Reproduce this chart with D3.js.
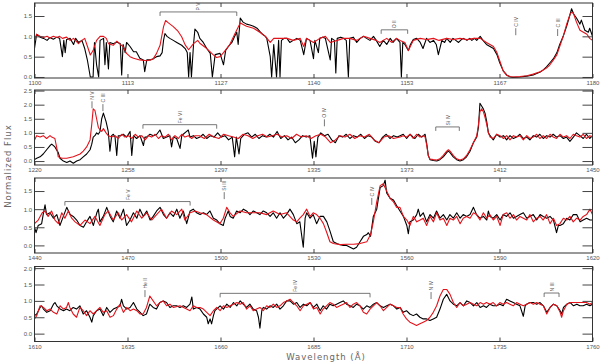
<!DOCTYPE html>
<html><head><meta charset="utf-8">
<script src="https://cdn.jsdelivr.net/npm/d3@7"></script>
<style>
body{margin:0;background:#fff;}
svg{display:block;}
.tick text{font-family:"Liberation Sans",Arial,sans-serif;font-size:6px;fill:#555;}
.tick line{stroke:#444;}
</style></head>
<body><svg id="c" width="600" height="364"></svg>
<script>
// ---------- data ----------
const p1Ticks = [1100, 1113.33, 1126.67, 1140, 1153.33, 1166.67, 1180];
const p2Ticks = [1220, 1258.33, 1296.67, 1335, 1373.33, 1411.67, 1450];
const p3Ticks = [1440, 1470, 1500, 1530, 1560, 1590, 1620];
const p4Ticks = [1610, 1635, 1660, 1685, 1710, 1735, 1760];
const p1YTicks = [0, 0.5, 1.0, 1.5];
const p2YTicks = [0, 0.5, 1.0, 1.5, 2.0, 2.5];
const p3YTicks = [0, 0.5, 1.0, 1.5];
const p4YTicks = [0, 0.5, 1.0, 1.5, 2.0];
const p1Domain = [-0.025, 1.82];
const p2Domain = [-0.14, 2.52];
const p3Domain = [-0.21, 1.86];
const p4Domain = [-0.24, 2.05];

const obs1 = [[1100.0,0.7],[1100.3,1.05],[1100.8,0.98],[1101.3,0.95],[1101.8,0.9],[1102.2,0.97],[1102.7,0.93],[1103.2,0.98],[1103.6,0.95],[1104.0,0.5],[1104.2,0.9],[1104.4,0.6],[1104.6,0.92],[1105.1,0.95],[1105.6,0.8],[1105.9,0.95],[1106.3,0.85],[1106.8,0.9],[1107.2,0.7],[1107.6,0.4],[1108.0,0.0],[1108.4,0.0],[1108.6,0.85],[1108.9,0.3],[1109.2,0.0],[1109.4,0.9],[1109.9,0.95],[1110.1,0.3],[1110.3,0.85],[1110.6,0.2],[1110.8,0.85],[1111.3,0.82],[1111.8,0.86],[1112.3,0.82],[1112.5,0.05],[1112.7,0.8],[1113.0,0.6],[1113.2,0.85],[1113.7,0.75],[1114.2,0.62],[1114.6,0.62],[1115.1,0.46],[1115.6,0.42],[1115.8,0.13],[1116.1,0.42],[1116.6,0.42],[1117.0,0.45],[1117.5,0.5],[1118.0,0.52],[1118.3,0.6],[1118.5,0.9],[1118.7,1.07],[1119.0,1.0],[1119.4,0.95],[1119.9,0.9],[1120.4,0.85],[1121.1,0.78],[1121.6,0.7],[1121.9,0.6],[1122.1,0.0],[1122.3,0.6],[1122.5,0.0],[1122.8,0.8],[1123.0,1.18],[1123.4,1.1],[1123.7,0.95],[1124.2,0.85],[1124.7,0.7],[1125.2,0.58],[1125.5,0.0],[1125.9,0.55],[1126.6,0.58],[1127.1,0.3],[1127.4,0.65],[1127.8,0.75],[1128.3,0.85],[1128.7,1.0],[1129.0,1.1],[1129.2,0.8],[1129.5,1.45],[1129.9,1.35],[1130.4,1.3],[1130.9,1.28],[1131.4,1.25],[1131.9,1.2],[1132.3,1.12],[1132.7,1.05],[1133.1,1.0],[1133.3,0.95],[1133.8,0.5],[1134.0,0.0],[1134.3,0.8],[1134.7,0.0],[1135.0,0.9],[1135.2,0.0],[1135.4,0.9],[1135.8,0.95],[1136.2,0.95],[1136.6,0.85],[1137.1,0.9],[1137.6,0.95],[1138.1,0.9],[1138.6,0.55],[1139.0,0.95],[1139.5,0.9],[1140.0,0.45],[1140.2,0.9],[1140.7,0.6],[1140.9,0.95],[1141.3,0.98],[1141.7,0.95],[1142.4,0.42],[1142.6,0.95],[1143.0,0.9],[1143.2,0.1],[1143.4,0.95],[1143.9,0.98],[1144.3,0.95],[1144.7,0.9],[1145.0,0.0],[1145.2,0.95],[1145.7,0.98],[1146.2,0.85],[1146.7,0.95],[1147.2,1.0],[1147.6,0.95],[1148.1,0.9],[1148.6,1.0],[1149.0,0.9],[1149.5,0.75],[1150.0,0.9],[1150.5,0.8],[1151.0,0.95],[1151.4,0.85],[1151.9,0.95],[1152.4,0.85],[1152.6,0.0],[1152.8,0.85],[1153.1,0.8],[1153.6,0.65],[1153.9,0.8],[1154.3,0.92],[1154.8,0.95],[1155.3,0.85],[1155.7,0.7],[1156.2,0.95],[1156.7,0.85],[1157.2,0.9],[1157.6,0.8],[1157.9,0.55],[1158.4,0.9],[1158.8,0.85],[1159.1,0.95],[1159.6,0.85],[1160.0,0.95],[1160.4,0.9],[1160.8,0.85],[1161.2,0.92],[1161.5,0.95],[1162.0,0.9],[1162.4,0.95],[1162.7,0.9],[1163.1,0.95],[1163.4,0.9],[1163.9,1.0],[1164.3,0.9],[1164.8,0.8],[1165.3,0.75],[1165.8,0.7],[1166.3,0.55],[1166.7,0.35],[1167.2,0.15],[1167.7,0.05],[1168.2,0.0],[1168.6,-0.01],[1169.6,0.0],[1170.6,0.02],[1171.5,0.05],[1172.5,0.12],[1172.9,0.17],[1173.4,0.25],[1173.9,0.35],[1174.4,0.45],[1174.9,0.6],[1175.3,0.8],[1175.8,1.0],[1176.3,1.25],[1176.8,1.55],[1177.0,1.68],[1177.3,1.55],[1177.7,1.45],[1178.2,1.3],[1178.4,1.4],[1178.9,1.15],[1179.4,1.1],[1179.6,1.2],[1180.0,1.0]];

const mod1 = [[1100.0,0.88],[1100.3,1.05],[1100.8,1.0],[1101.3,0.97],[1101.8,1.0],[1102.2,0.96],[1102.7,1.0],[1103.2,0.97],[1103.6,1.0],[1104.0,0.95],[1104.6,0.98],[1105.1,0.9],[1105.6,0.95],[1106.3,0.82],[1106.8,0.9],[1107.2,0.95],[1107.6,0.75],[1108.0,0.54],[1108.4,0.65],[1108.9,0.9],[1109.4,1.0],[1109.9,1.0],[1110.3,0.95],[1110.6,0.82],[1111.3,0.78],[1111.8,0.88],[1112.3,0.8],[1112.7,0.75],[1113.2,0.58],[1113.7,0.5],[1114.2,0.46],[1115.1,0.42],[1116.1,0.4],[1117.0,0.44],[1117.5,0.58],[1118.0,0.78],[1118.5,1.24],[1118.8,1.39],[1119.2,1.33],[1119.9,1.24],[1120.6,1.12],[1121.1,0.99],[1121.6,0.79],[1122.1,0.67],[1122.8,0.82],[1123.4,0.9],[1123.7,0.83],[1124.7,0.7],[1125.6,0.55],[1126.1,0.48],[1126.6,0.5],[1127.1,0.6],[1128.0,0.8],[1128.7,1.05],[1129.5,1.33],[1130.4,1.25],[1131.4,1.2],[1132.3,1.1],[1133.1,1.0],[1133.8,0.85],[1134.3,0.95],[1135.2,0.95],[1136.2,0.95],[1137.1,0.9],[1138.1,0.95],[1138.6,0.75],[1139.0,0.95],[1140.0,0.85],[1140.9,0.95],[1141.7,1.0],[1142.4,0.85],[1143.4,0.9],[1144.3,0.95],[1145.2,0.95],[1146.2,0.9],[1147.2,1.0],[1148.1,0.95],[1149.0,0.9],[1149.5,0.85],[1150.5,0.95],[1151.2,0.85],[1151.9,0.95],[1152.4,0.9],[1153.1,0.85],[1153.6,0.65],[1154.3,0.9],[1155.3,0.95],[1156.2,0.92],[1157.2,0.95],[1158.0,0.9],[1159.1,0.95],[1160.0,0.92],[1161.0,0.95],[1162.0,0.92],[1163.0,0.95],[1163.9,0.95],[1164.8,0.85],[1165.8,0.75],[1166.3,0.6],[1166.7,0.4],[1167.2,0.15],[1167.7,0.04],[1168.2,0.01],[1168.6,0.0],[1169.6,0.01],[1170.6,0.03],[1171.5,0.07],[1172.5,0.13],[1173.4,0.22],[1173.9,0.3],[1174.4,0.42],[1174.9,0.55],[1175.3,0.75],[1175.8,1.0],[1176.3,1.3],[1176.8,1.55],[1177.0,1.6],[1177.3,1.55],[1177.7,1.35],[1178.2,1.15],[1178.7,1.1],[1179.2,1.05],[1179.6,0.95],[1180.0,0.9]];

const obs2 = [[1220.0,0.05],[1220.9,0.1],[1222.3,0.15],[1223.6,0.25],[1225.0,0.4],[1226.4,0.55],[1227.1,0.6],[1228.4,0.5],[1229.8,0.3],[1230.5,0.1],[1231.9,0.0],[1233.3,-0.05],[1234.6,0.0],[1236.0,-0.08],[1237.4,0.0],[1238.8,0.05],[1240.1,0.15],[1241.5,0.25],[1242.9,0.4],[1243.6,0.6],[1244.2,0.85],[1244.9,0.9],[1245.6,1.0],[1246.3,0.95],[1247.0,1.05],[1247.7,1.5],[1248.4,1.7],[1249.5,1.4],[1250.4,1.05],[1251.1,0.35],[1251.8,0.9],[1252.5,0.95],[1253.2,0.85],[1253.9,0.2],[1254.5,0.9],[1255.2,0.9],[1256.6,0.95],[1258.0,0.85],[1259.4,1.05],[1260.1,0.2],[1260.8,0.9],[1262.1,0.8],[1263.5,0.9],[1264.9,0.55],[1265.5,0.85],[1266.2,0.85],[1267.6,0.95],[1269.0,0.9],[1270.4,0.95],[1271.7,1.1],[1273.1,0.8],[1274.5,0.85],[1275.8,0.9],[1276.5,0.5],[1277.2,0.85],[1278.6,0.8],[1280.0,0.45],[1280.7,0.9],[1281.3,0.95],[1282.7,1.05],[1283.4,1.1],[1284.1,0.85],[1285.5,0.9],[1286.8,0.8],[1288.2,0.85],[1289.5,0.95],[1291.0,0.8],[1292.5,0.9],[1294.0,0.85],[1295.5,1.0],[1297.0,0.85],[1298.5,0.9],[1300.0,0.75],[1301.5,0.85],[1302.5,0.15],[1303.2,0.85],[1304.3,0.25],[1305.0,0.8],[1306.5,0.95],[1308.0,1.0],[1309.5,0.85],[1311.0,0.95],[1312.5,0.8],[1314.0,0.9],[1315.5,0.85],[1317.0,0.95],[1318.5,0.85],[1320.0,1.05],[1321.5,0.8],[1323.0,0.9],[1324.5,0.75],[1326.0,0.85],[1327.5,0.65],[1329.0,0.75],[1330.5,0.9],[1332.0,0.85],[1333.5,0.9],[1334.6,0.1],[1335.3,0.7],[1336.0,0.15],[1336.8,0.85],[1338.0,1.0],[1339.5,0.9],[1341.0,0.95],[1342.5,0.75],[1344.0,0.65],[1345.5,0.9],[1347.0,0.85],[1348.5,0.95],[1350.0,0.8],[1351.5,0.9],[1353.0,0.85],[1354.5,0.95],[1356.0,0.8],[1357.5,0.9],[1359.0,0.85],[1360.5,0.7],[1362.0,0.65],[1363.5,0.85],[1365.0,0.95],[1366.5,0.8],[1368.0,0.9],[1369.5,0.85],[1370.7,0.9],[1372.0,0.95],[1373.4,0.8],[1374.8,0.95],[1376.1,0.85],[1376.8,0.8],[1378.2,0.95],[1379.6,0.85],[1381.0,0.95],[1381.7,0.6],[1382.3,0.2],[1383.0,0.05],[1384.4,0.02],[1385.8,0.0],[1387.1,0.05],[1388.5,0.15],[1389.9,0.3],[1390.6,0.35],[1391.3,0.3],[1392.6,0.15],[1394.0,0.05],[1395.4,0.0],[1396.8,0.05],[1398.1,0.15],[1399.5,0.35],[1400.9,0.65],[1402.3,0.85],[1403.0,1.2],[1403.6,2.05],[1404.3,1.95],[1405.0,1.85],[1405.7,1.7],[1406.4,1.4],[1407.1,1.0],[1407.8,0.9],[1409.1,0.75],[1410.5,0.95],[1411.9,0.85],[1413.3,0.9],[1414.6,0.75],[1416.0,0.9],[1417.4,0.8],[1418.7,0.85],[1420.1,0.95],[1421.5,0.8],[1422.9,0.85],[1424.2,0.75],[1425.6,0.9],[1427.0,0.85],[1428.3,0.95],[1429.7,0.8],[1431.1,0.9],[1432.5,0.85],[1433.8,0.95],[1435.2,0.85],[1436.6,0.9],[1438.0,0.8],[1439.3,0.85],[1440.7,0.7],[1442.1,0.85],[1443.4,1.0],[1444.8,0.9],[1446.2,0.8],[1447.5,0.95],[1448.9,0.8],[1450.0,0.9]];

const mod2 = [[1220.0,0.75],[1220.9,0.9],[1222.3,0.85],[1223.6,0.9],[1225.0,0.8],[1226.4,0.9],[1227.1,0.85],[1228.4,0.8],[1229.1,0.5],[1229.8,0.15],[1231.2,0.1],[1233.3,0.1],[1236.0,0.15],[1238.8,0.25],[1240.1,0.35],[1241.5,0.5],[1242.9,0.75],[1243.6,1.3],[1244.2,1.85],[1244.9,1.8],[1245.6,1.5],[1246.3,1.2],[1247.0,1.1],[1247.7,1.05],[1248.4,1.15],[1249.5,1.0],[1250.4,0.9],[1251.8,0.85],[1253.2,0.9],[1254.5,0.8],[1256.0,0.95],[1257.3,0.85],[1258.7,0.9],[1260.1,0.8],[1261.5,0.95],[1262.8,0.85],[1264.2,0.9],[1265.6,0.75],[1267.0,0.9],[1268.3,0.85],[1269.7,0.95],[1271.1,0.8],[1272.4,0.9],[1273.8,0.85],[1275.2,0.95],[1276.5,0.75],[1277.9,0.9],[1279.3,0.8],[1280.7,0.95],[1282.0,0.85],[1283.4,0.9],[1284.8,0.8],[1286.2,0.9],[1288.0,0.9],[1290.0,0.8],[1292.0,0.95],[1294.0,0.85],[1296.0,0.8],[1298.0,0.95],[1300.0,0.9],[1302.0,0.85],[1304.0,0.8],[1306.0,0.95],[1308.0,0.9],[1310.0,0.8],[1312.0,0.9],[1314.0,0.95],[1316.0,0.85],[1318.0,0.9],[1320.0,0.95],[1322.0,0.85],[1324.0,0.9],[1326.0,0.8],[1328.0,0.95],[1330.0,0.85],[1332.0,0.9],[1334.0,0.8],[1336.0,0.9],[1338.0,0.95],[1340.0,0.85],[1342.0,0.65],[1344.0,0.75],[1346.0,0.9],[1348.0,0.85],[1350.0,0.95],[1352.0,0.8],[1354.0,0.9],[1356.0,0.85],[1358.0,0.95],[1360.0,0.75],[1362.0,0.65],[1364.0,0.85],[1366.0,0.9],[1368.0,0.8],[1370.7,0.85],[1372.0,0.9],[1373.4,0.85],[1374.8,0.95],[1376.1,0.8],[1377.5,0.95],[1378.9,0.85],[1380.3,0.9],[1381.0,0.85],[1381.7,0.55],[1382.3,0.2],[1383.0,0.07],[1384.4,0.05],[1385.8,0.04],[1387.1,0.08],[1388.5,0.2],[1389.9,0.35],[1390.6,0.4],[1391.3,0.35],[1392.6,0.2],[1394.0,0.08],[1395.4,0.04],[1396.8,0.08],[1398.1,0.2],[1399.5,0.4],[1400.9,0.65],[1402.3,0.9],[1403.0,1.3],[1403.6,1.75],[1404.3,1.85],[1405.0,1.75],[1405.7,1.55],[1406.4,1.3],[1407.1,1.0],[1407.8,0.85],[1409.1,0.8],[1410.5,0.95],[1411.9,0.9],[1413.3,0.8],[1414.6,0.9],[1416.0,0.75],[1417.4,0.9],[1418.7,0.85],[1420.1,0.9],[1421.5,0.75],[1422.9,0.9],[1424.2,0.8],[1425.6,0.85],[1427.0,0.95],[1428.3,0.8],[1429.7,0.9],[1431.1,0.8],[1432.5,0.95],[1433.8,0.85],[1435.2,0.8],[1436.6,0.95],[1438.0,0.85],[1439.3,0.9],[1440.7,0.8],[1442.1,0.95],[1443.4,0.9],[1444.8,0.85],[1446.2,0.95],[1447.5,0.8],[1448.9,0.9],[1450.0,0.85]];

const obs3 = [[1440.0,0.5],[1440.5,0.35],[1441.2,0.55],[1442.3,0.6],[1442.8,0.85],[1443.4,1.12],[1443.9,0.85],[1445.0,0.9],[1446.1,0.75],[1447.2,0.85],[1448.2,0.55],[1449.3,0.8],[1450.4,1.05],[1451.5,0.85],[1452.5,0.8],[1453.6,0.7],[1454.7,0.55],[1455.8,0.5],[1456.8,0.65],[1457.9,0.8],[1459.0,0.55],[1460.1,0.9],[1460.6,1.0],[1461.1,0.65],[1462.2,0.8],[1463.3,1.05],[1464.4,0.8],[1465.4,0.65],[1466.5,0.95],[1467.6,0.75],[1468.7,1.0],[1469.7,0.55],[1470.8,0.7],[1471.9,0.9],[1473.0,0.75],[1474.0,1.0],[1475.1,0.8],[1476.2,0.95],[1477.3,0.7],[1478.3,0.8],[1479.4,0.95],[1480.5,1.05],[1481.6,0.85],[1482.6,0.75],[1483.7,0.9],[1484.8,0.8],[1485.9,1.0],[1486.9,0.75],[1488.0,0.95],[1489.1,0.6],[1490.2,0.95],[1491.2,1.0],[1492.3,0.9],[1493.4,0.85],[1494.5,0.9],[1495.5,0.85],[1496.6,0.95],[1497.7,0.75],[1498.8,0.7],[1499.8,0.6],[1500.9,0.55],[1501.5,0.75],[1502.0,0.85],[1502.5,0.95],[1503.1,0.8],[1504.1,0.75],[1505.2,0.95],[1506.3,0.9],[1507.4,1.0],[1508.4,0.95],[1509.5,0.85],[1510.6,0.95],[1511.7,0.9],[1512.7,0.85],[1513.8,0.95],[1514.9,0.9],[1516.0,0.8],[1517.0,0.9],[1518.1,0.75],[1519.2,0.9],[1520.3,0.75],[1521.3,0.85],[1522.4,1.0],[1523.5,0.85],[1524.6,0.6],[1525.6,0.65],[1526.7,-0.05],[1527.3,0.75],[1527.8,0.9],[1528.9,0.75],[1529.9,0.85],[1531.0,0.6],[1532.1,0.8],[1533.2,0.8],[1534.3,0.65],[1535.3,0.4],[1536.4,0.1],[1537.5,0.05],[1538.6,0.02],[1539.6,0.0],[1540.7,0.0],[1541.8,-0.05],[1542.9,-0.1],[1543.9,-0.05],[1545.0,0.1],[1546.1,0.25],[1547.2,0.3],[1547.7,0.35],[1548.4,0.25],[1549.3,0.8],[1550.4,1.0],[1551.5,1.6],[1552.5,1.65],[1553.1,1.8],[1553.6,1.45],[1554.7,1.3],[1555.8,1.25],[1556.8,1.1],[1557.9,0.95],[1559.0,0.8],[1560.1,0.55],[1560.6,0.32],[1561.1,0.65],[1562.2,0.7],[1563.3,0.85],[1563.8,1.0],[1564.4,0.8],[1565.4,0.9],[1566.5,0.65],[1567.6,0.85],[1568.7,0.75],[1569.7,0.95],[1570.8,0.75],[1571.9,0.85],[1573.0,0.7],[1574.0,0.85],[1575.1,0.75],[1576.2,0.9],[1577.3,0.75],[1578.3,0.85],[1579.4,0.8],[1580.5,0.85],[1581.6,1.05],[1582.6,0.85],[1583.7,0.75],[1584.8,0.8],[1585.9,0.7],[1586.4,0.95],[1586.9,0.8],[1588.0,0.75],[1589.1,0.85],[1590.2,0.7],[1591.2,0.85],[1592.3,0.8],[1593.4,0.9],[1594.5,0.75],[1595.5,0.8],[1596.6,0.85],[1597.7,0.9],[1598.8,0.75],[1599.8,0.8],[1600.9,0.85],[1602.0,0.7],[1603.1,0.85],[1604.1,0.8],[1605.2,0.75],[1606.3,0.8],[1607.4,0.7],[1608.4,0.35],[1609.0,0.55],[1609.5,0.55],[1610.6,0.6],[1611.7,0.75],[1612.7,0.7],[1613.8,0.85],[1614.9,0.85],[1616.0,0.65],[1617.0,0.7],[1618.1,0.75],[1619.2,0.7],[1620.0,0.7]];

const mod3 = [[1440.0,0.6],[1441.2,0.7],[1442.5,0.9],[1443.4,0.95],[1444.4,0.8],[1445.5,0.95],[1446.6,0.7],[1447.7,0.6],[1448.8,0.9],[1449.8,0.75],[1450.9,0.95],[1452.0,0.75],[1453.1,0.65],[1454.7,0.55],[1456.3,0.7],[1457.9,0.6],[1459.5,0.8],[1461.1,0.55],[1462.7,0.85],[1463.8,0.95],[1465.4,0.7],[1467.0,0.9],[1468.1,0.7],[1469.7,0.85],[1471.3,0.65],[1473.0,0.95],[1474.6,0.75],[1476.2,0.9],[1477.8,0.7],[1479.4,0.85],[1481.0,1.0],[1482.6,0.75],[1484.2,0.95],[1485.9,0.85],[1487.5,1.0],[1488.5,0.7],[1490.2,0.9],[1491.8,0.95],[1493.4,0.9],[1495.5,0.85],[1497.7,0.7],[1499.8,0.6],[1500.9,0.75],[1502.0,1.05],[1503.1,0.9],[1504.1,0.8],[1506.3,0.95],[1508.4,0.9],[1510.6,0.9],[1512.7,0.9],[1514.9,0.85],[1517.0,0.95],[1519.2,0.85],[1521.3,0.9],[1523.5,0.7],[1524.6,0.65],[1525.6,0.75],[1526.7,0.85],[1527.8,1.0],[1528.9,0.8],[1529.9,0.9],[1531.0,0.85],[1532.1,0.75],[1533.2,0.6],[1534.3,0.35],[1535.3,0.1],[1536.4,0.05],[1538.6,0.02],[1540.7,0.03],[1542.9,0.03],[1545.0,0.05],[1547.2,0.1],[1548.4,0.3],[1549.3,0.65],[1550.4,1.2],[1551.5,1.65],[1552.5,1.7],[1553.6,1.5],[1554.7,1.3],[1555.8,1.2],[1556.8,1.05],[1557.9,1.05],[1559.0,0.8],[1560.1,0.7],[1561.1,0.55],[1562.2,0.8],[1563.3,0.65],[1564.4,0.7],[1565.4,0.75],[1566.5,0.55],[1567.6,0.8],[1568.7,0.65],[1569.7,0.9],[1570.8,0.7],[1571.9,0.75],[1573.0,0.55],[1574.0,0.75],[1575.1,0.7],[1576.2,0.8],[1577.3,0.6],[1578.3,0.75],[1579.4,0.8],[1580.5,0.75],[1581.6,0.9],[1582.6,0.85],[1583.7,0.7],[1584.8,0.9],[1585.9,0.75],[1586.9,0.85],[1588.0,0.7],[1589.1,0.8],[1590.2,0.55],[1591.2,0.85],[1592.3,0.9],[1593.4,0.75],[1594.5,0.85],[1595.5,0.7],[1596.6,0.8],[1597.7,0.75],[1598.8,0.7],[1599.8,0.85],[1600.9,0.65],[1602.0,0.75],[1603.1,0.8],[1604.1,0.7],[1605.2,0.85],[1606.3,0.6],[1607.4,0.75],[1608.4,0.55],[1609.5,0.6],[1610.6,0.75],[1611.7,0.7],[1612.7,0.8],[1613.8,0.65],[1614.9,0.75],[1616.0,0.7],[1617.0,0.8],[1618.1,0.85],[1619.2,1.0],[1620.0,0.85]];

const obs4 = [[1610.0,0.55],[1610.6,0.6],[1611.5,0.8],[1611.9,0.85],[1612.4,0.75],[1613.3,0.65],[1614.2,0.7],[1615.1,0.9],[1615.5,0.95],[1616.0,0.85],[1616.9,0.75],[1617.8,0.7],[1618.6,0.75],[1619.5,0.7],[1620.4,0.8],[1621.3,0.75],[1622.2,0.85],[1623.1,0.6],[1624.0,0.7],[1624.9,0.5],[1625.4,0.35],[1625.8,0.55],[1626.7,0.7],[1627.6,0.75],[1628.5,0.55],[1629.4,0.8],[1630.3,0.65],[1631.2,0.75],[1632.1,0.8],[1633.0,0.85],[1633.4,1.05],[1633.9,0.85],[1634.8,0.75],[1635.7,0.8],[1636.6,0.95],[1637.5,0.75],[1638.4,0.65],[1639.2,0.55],[1640.1,0.6],[1641.0,0.9],[1641.9,0.8],[1642.8,0.75],[1643.7,0.95],[1644.6,1.0],[1645.5,0.95],[1646.4,0.8],[1647.3,0.85],[1648.2,0.85],[1649.1,0.8],[1650.0,0.85],[1650.9,0.8],[1651.8,0.9],[1652.3,1.12],[1652.7,0.75],[1653.6,0.8],[1654.5,0.75],[1655.4,0.6],[1656.3,0.5],[1656.7,0.3],[1657.2,0.45],[1657.6,0.3],[1658.1,0.55],[1658.5,0.7],[1659.9,0.85],[1660.8,0.75],[1661.7,0.9],[1662.6,0.8],[1663.5,0.95],[1664.4,0.85],[1665.3,1.0],[1666.1,0.9],[1667.0,0.8],[1667.9,0.9],[1668.8,0.75],[1669.7,0.7],[1670.2,0.5],[1670.6,0.17],[1671.1,0.7],[1671.5,0.8],[1672.4,0.75],[1673.3,0.85],[1674.2,0.8],[1675.1,0.9],[1676.0,0.75],[1676.9,0.85],[1677.8,1.0],[1678.7,1.0],[1679.6,0.9],[1680.5,0.95],[1681.4,0.8],[1682.3,0.9],[1683.2,0.85],[1684.1,0.95],[1685.0,0.8],[1685.9,0.9],[1686.8,0.7],[1687.6,0.85],[1688.5,0.75],[1689.4,0.9],[1690.3,0.85],[1691.2,0.9],[1692.1,0.95],[1693.0,1.0],[1693.9,0.9],[1694.8,0.85],[1695.7,0.8],[1696.6,0.9],[1697.5,0.85],[1698.4,0.75],[1699.3,0.85],[1700.2,0.8],[1701.1,0.9],[1702.0,0.95],[1702.9,0.85],[1703.8,0.8],[1704.7,0.85],[1705.6,0.9],[1706.5,0.85],[1707.4,0.75],[1708.3,0.8],[1709.1,0.65],[1710.0,0.7],[1710.9,0.6],[1711.8,0.55],[1712.7,0.6],[1713.6,0.5],[1714.5,0.45],[1715.4,0.45],[1716.3,0.4],[1717.2,0.45],[1718.1,0.5],[1719.0,0.75],[1719.9,1.05],[1720.8,1.2],[1721.7,1.0],[1722.6,0.9],[1723.5,0.85],[1724.4,0.95],[1725.3,0.85],[1726.2,1.0],[1727.1,0.95],[1728.0,0.85],[1728.9,0.95],[1729.8,0.8],[1730.7,0.85],[1731.5,0.8],[1732.4,0.9],[1733.3,0.85],[1734.2,0.85],[1735.1,0.9],[1736.0,0.85],[1736.9,1.05],[1737.8,1.0],[1738.7,0.95],[1739.6,0.9],[1740.5,0.85],[1741.4,0.53],[1741.9,0.85],[1742.3,0.9],[1743.2,0.95],[1744.1,0.95],[1745.0,0.9],[1745.9,0.95],[1746.8,0.85],[1747.7,0.65],[1748.6,0.8],[1749.5,0.9],[1750.4,0.85],[1751.3,0.7],[1751.7,0.6],[1752.2,0.8],[1753.1,0.9],[1754.0,0.95],[1754.9,0.85],[1755.8,0.9],[1756.6,0.85],[1757.5,0.85],[1758.4,0.9],[1759.3,0.85],[1760.0,0.9]];

const mod4 = [[1610.0,0.45],[1610.6,0.55],[1611.5,0.85],[1612.4,0.8],[1613.3,0.7],[1614.2,0.75],[1615.1,0.65],[1616.0,0.6],[1616.9,0.85],[1617.8,0.75],[1618.6,0.8],[1619.1,0.95],[1619.5,0.8],[1620.4,0.6],[1621.3,0.5],[1622.2,0.8],[1623.1,0.7],[1624.0,0.55],[1624.9,0.7],[1625.8,0.6],[1626.7,0.7],[1627.6,0.8],[1628.5,0.65],[1629.4,0.7],[1630.3,0.5],[1631.2,0.55],[1632.1,0.75],[1633.0,0.9],[1633.9,0.65],[1634.8,0.8],[1635.7,0.7],[1636.6,0.75],[1637.5,0.7],[1638.4,0.6],[1639.2,0.6],[1640.1,0.8],[1641.0,1.15],[1641.9,1.0],[1642.8,0.85],[1643.7,0.95],[1644.6,1.0],[1645.5,0.85],[1646.4,0.9],[1647.3,0.8],[1649.1,0.85],[1650.9,0.75],[1651.8,0.7],[1652.7,0.85],[1653.6,0.8],[1654.5,0.8],[1655.4,0.75],[1656.3,0.65],[1657.2,0.55],[1658.1,0.7],[1659.0,0.8],[1659.9,0.7],[1660.8,0.85],[1661.7,0.8],[1662.6,0.85],[1663.5,0.9],[1664.4,0.95],[1665.3,0.9],[1666.1,0.95],[1667.0,0.75],[1667.9,0.85],[1668.8,0.7],[1669.7,0.75],[1670.6,0.8],[1671.5,0.7],[1672.4,0.85],[1673.3,0.8],[1674.2,0.9],[1675.1,0.8],[1676.0,0.85],[1676.9,0.95],[1677.8,1.0],[1678.7,1.05],[1679.6,0.95],[1680.5,0.85],[1681.4,0.7],[1682.3,0.85],[1683.2,0.9],[1684.1,0.95],[1685.0,0.75],[1685.9,0.8],[1686.8,0.6],[1687.6,0.75],[1688.5,0.85],[1689.4,0.95],[1690.3,0.9],[1691.2,0.8],[1692.1,0.85],[1693.0,0.9],[1693.9,0.95],[1694.8,0.8],[1695.7,0.9],[1696.6,0.95],[1697.5,0.85],[1698.4,0.65],[1699.3,0.6],[1700.2,0.75],[1701.1,0.85],[1702.0,0.95],[1702.9,0.85],[1703.8,0.7],[1704.7,0.8],[1705.6,0.9],[1706.5,0.85],[1707.4,0.8],[1708.3,0.8],[1709.1,0.6],[1710.0,0.45],[1710.9,0.35],[1711.8,0.3],[1712.7,0.25],[1713.6,0.3],[1714.5,0.35],[1715.4,0.4],[1716.3,0.5],[1717.2,0.65],[1718.1,0.85],[1719.0,1.15],[1719.9,1.35],[1720.8,1.35],[1721.7,1.2],[1722.6,0.95],[1723.5,0.8],[1724.4,0.95],[1725.3,0.85],[1726.2,0.9],[1727.1,0.95],[1728.0,0.9],[1728.9,0.85],[1729.8,0.95],[1730.7,0.9],[1731.5,0.95],[1732.4,0.9],[1733.3,0.95],[1734.2,0.85],[1735.1,0.95],[1736.0,0.9],[1736.9,0.95],[1737.8,0.9],[1738.7,0.85],[1739.6,0.95],[1740.5,0.9],[1741.4,0.85],[1742.3,0.9],[1743.2,0.95],[1744.1,0.9],[1745.0,0.95],[1745.9,0.9],[1746.8,0.85],[1747.7,0.6],[1748.6,0.8],[1749.5,0.9],[1750.4,0.85],[1751.3,0.65],[1751.7,0.5],[1752.2,0.7],[1753.1,0.9],[1754.0,0.95],[1754.9,0.95],[1755.8,0.95],[1756.6,0.95],[1757.5,0.95],[1758.4,0.95],[1759.3,0.9],[1760.0,0.95]];

// line identifications: label, wavelength start/end, flux level of marker
const ids1 = [{label:"P V", w1:1118.0, w2:1129.0, f:1.6},{label:"O II", w1:1149.7, w2:1153.5, f:1.16},{label:"C IV", w1:1169.0, f:1.2},{label:"C III", w1:1175.0, f:1.18}];
const ids2 = [{label:"N V", w1:1243.7, f:2.12},{label:"C III", w1:1248.2, f:2.02},{label:"Fe VI", w1:1264.7, w2:1295.1, f:1.29},{label:"O IV", w1:1339.5, f:1.48},{label:"Si IV", w1:1385.4, w2:1395.1, f:1.21}];
const ids3 = [{label:"Fe V", w1:1449.8, w2:1490.2, f:1.21},{label:"Si III", w1:1501.2, f:1.47},{label:"C IV", w1:1548.8, f:1.31}];
const ids4 = [{label:"He II", w1:1639.7, f:1.33},{label:"Fe IV", w1:1659.9, w2:1700.2, f:1.23},{label:"N IV", w1:1716.6, f:1.27},{label:"N III", w1:1747.0, w2:1751.0, f:1.24}];

// ---------- drawing ----------
const svg = d3.select("#c");
const X0 = 34.5, X1 = 592.5, H = 75;
const panels = [
  {top:3,   xt:p1Ticks, yt:p1YTicks, yd:p1Domain, obs:obs1, mod:mod1, ids:ids1},
  {top:90,  xt:p2Ticks, yt:p2YTicks, yd:p2Domain, obs:obs2, mod:mod2, ids:ids2},
  {top:178, xt:p3Ticks, yt:p3YTicks, yd:p3Domain, obs:obs3, mod:mod3, ids:ids3},
  {top:266.5, xt:p4Ticks, yt:p4YTicks, yd:p4Domain, obs:obs4, mod:mod4, ids:ids4}
];

panels.forEach(p => {
  const x = d3.scaleLinear().domain([p.xt[0], p.xt[p.xt.length-1]]).range([X0, X1]);
  const y = d3.scaleLinear().domain(p.yd).range([p.top + H, p.top]);
  const g = svg.append("g");
  const clipId = "clip" + Math.round(p.top);
  svg.append("clipPath").attr("id", clipId).append("rect")
    .attr("x", X0).attr("y", p.top).attr("width", X1 - X0).attr("height", H);

  const line = d3.line().x(d => x(d[0])).y(d => y(d[1]));
  const lines = g.append("g").attr("clip-path", `url(#${clipId})`);
  lines.append("path").datum(p.obs).attr("d", line)
    .attr("fill","none").attr("stroke","#000").attr("stroke-width",1.1).attr("stroke-linejoin","round");
  lines.append("path").datum(p.mod).attr("d", line)
    .attr("fill","none").attr("stroke","#e3131b").attr("stroke-width",1.1).attr("stroke-linejoin","round");

  const fmt = d3.format(".0f");
  const bx = g.append("g").attr("transform",`translate(0,${p.top+H})`)
    .call(d3.axisBottom(x).tickValues(p.xt).tickFormat(fmt).tickSizeInner(-4).tickSizeOuter(0).tickPadding(3));
  const tx = g.append("g").attr("transform",`translate(0,${p.top})`)
    .call(d3.axisTop(x).tickValues(p.xt).tickFormat("").tickSizeInner(-4).tickSizeOuter(0));
  const ly = g.append("g").attr("transform",`translate(${X0},0)`)
    .call(d3.axisLeft(y).tickValues(p.yt).tickFormat(d3.format(".1f")).tickSizeInner(-10).tickSizeOuter(0).tickPadding(2.5));
  const ry = g.append("g").attr("transform",`translate(${X1},0)`)
    .call(d3.axisRight(y).tickValues(p.yt).tickFormat("").tickSizeInner(-10).tickSizeOuter(0));
  [bx,tx,ly,ry].forEach(a => { a.select(".domain").remove(); a.selectAll(".tick line").attr("stroke","#444"); });

  g.append("rect").attr("x", X0).attr("y", p.top).attr("width", X1-X0).attr("height", H)
    .attr("fill","none").attr("stroke","#333").attr("stroke-width",1);

  p.ids.forEach(id => {
    const yy = y(id.f);
    let cx;
    if (id.w2 !== undefined) {
      const xa = x(id.w1), xb = x(id.w2);
      cx = (xa + xb) / 2;
      g.append("path").attr("d", `M${xa},${yy+4}V${yy}H${xb}V${yy+4}`)
        .attr("fill","none").attr("stroke","#555").attr("stroke-width",0.8);
    } else {
      cx = x(id.w1);
      g.append("line").attr("x1",cx).attr("x2",cx).attr("y1",yy).attr("y2",yy+7)
        .attr("stroke","#555").attr("stroke-width",0.8);
    }
    g.append("text").attr("transform",`translate(${cx+2},${yy-1.5}) rotate(-90)`)
      .attr("font-family","Liberation Sans, Arial, sans-serif").attr("font-size",5)
      .attr("fill","#555").text(id.label);
  });
});

svg.append("text").attr("transform","translate(11,166) rotate(-90)")
  .attr("text-anchor","middle").attr("font-family","DejaVu Sans, sans-serif")
  .attr("font-size",8.5).attr("letter-spacing",1).attr("fill","#666").text("Normalized Flux");
svg.append("text").attr("x",326).attr("y",360).attr("text-anchor","middle")
  .attr("font-family","DejaVu Sans, sans-serif")
  .attr("font-size",8.5).attr("letter-spacing",1).attr("fill","#666").text("Wavelength (Å)");
</script></body></html>
